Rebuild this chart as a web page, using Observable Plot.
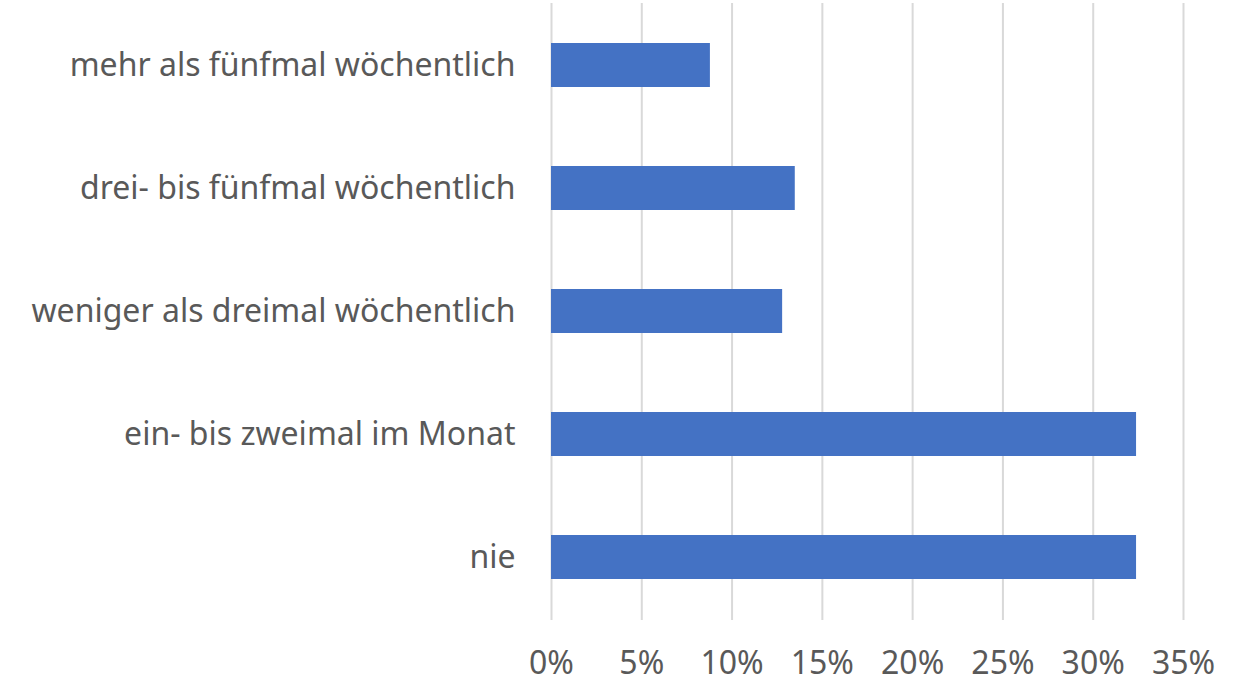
<!DOCTYPE html>
<html>
<head>
<meta charset="utf-8">
<script src="https://cdn.jsdelivr.net/npm/d3@7"></script>
<script src="https://cdn.jsdelivr.net/npm/@observablehq/plot@0.6"></script>
<style>
  html, body { margin: 0; padding: 0; background: #fff; }
  #chart svg { display: block; }
</style>
</head>
<body>
<div id="chart"></div>
<script>
const categories = [
  "mehr als fünfmal wöchentlich",
  "drei- bis fünfmal wöchentlich",
  "weniger als dreimal wöchentlich",
  "ein- bis zweimal im Monat",
  "nie"
];
const values = [0.088, 0.135, 0.128, 0.324, 0.324];
const xTicks = [0, 0.05, 0.10, 0.15, 0.20, 0.25, 0.30, 0.35];

const data = categories.map((c, i) => ({category: c, value: values[i]}));

const chart = Plot.plot({
  width: 1243,
  height: 683,
  marginLeft: 551,
  marginRight: 60,
  marginTop: 3,
  marginBottom: 63,
  style: {fontFamily: "'Noto Sans', sans-serif", fontSize: "32px", color: "#595959", background: "#fff"},
  x: {domain: [0, 0.35], ticks: xTicks, tickFormat: d => Math.round(d * 100) + "%", label: null},
  y: {domain: categories, paddingInner: 0.64, paddingOuter: 0.32, label: null},
  marks: [
    Plot.ruleX(xTicks, {stroke: "#d9d9d9", strokeWidth: 2}),
    Plot.barX(data, {x: "value", y: "category", fill: "#4472C4"}),
    Plot.axisX({ticks: xTicks, tickSize: 0, tickPadding: 31, fontSize: 32, fill: "#595959", tickFormat: d => Math.round(d * 100) + "%", label: null}),
    Plot.axisY({tickSize: 0, tickPadding: 36, fontSize: 32, fill: "#595959", label: null})
  ]
});
document.getElementById("chart").appendChild(chart);
</script>
</body>
</html>
